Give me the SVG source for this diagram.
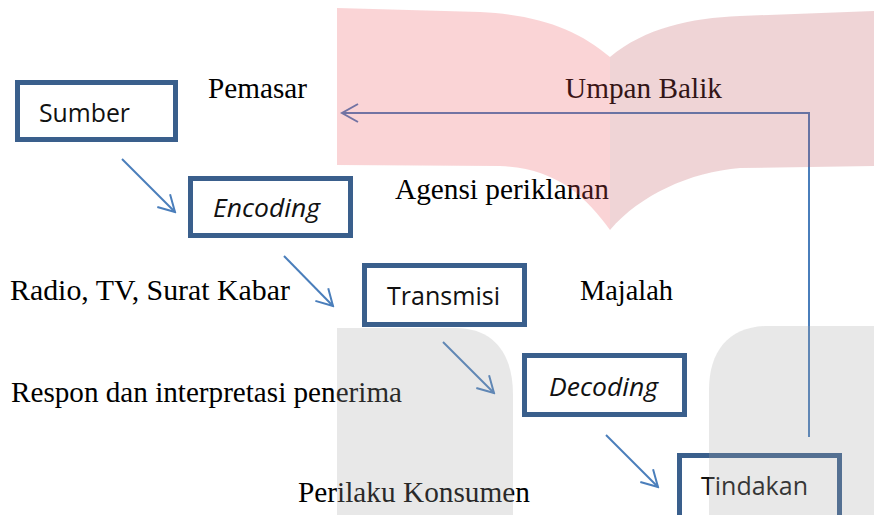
<svg xmlns="http://www.w3.org/2000/svg" width="874" height="515" viewBox="0 0 874 515">
  <style>
    .box { fill: #ffffff; stroke: #3a5f8c; stroke-width: 5; }
    .boxtext { font-family: "Open Sans", "Noto Sans", "Liberation Sans", sans-serif; font-size: 25px; fill: #111111; }
    .label { font-family: "Liberation Serif", "Times New Roman", serif; font-size: 29px; fill: #000000; }
    .conn { fill: none; stroke: #4a7ebb; stroke-width: 2; }
    .wm { fill-opacity: 0.25; }
  </style>
  <defs>
    <marker id="arrow" markerUnits="userSpaceOnUse" viewBox="0 0 20 20" refX="18" refY="10" markerWidth="20" markerHeight="20" orient="auto">
      <path d="M2,1 L18,10 L2,19" fill="none" stroke="#4a7ebb" stroke-width="2"/>
    </marker>
  </defs>

  <rect width="874" height="515" fill="#ffffff"/>

  <!-- connectors -->
  <g id="connectors">
    <line class="conn" x1="122" y1="159" x2="175" y2="212" marker-end="url(#arrow)"/>
    <line class="conn" x1="284" y1="256" x2="333" y2="306" marker-end="url(#arrow)"/>
    <line class="conn" x1="443" y1="342" x2="494" y2="393" marker-end="url(#arrow)"/>
    <line class="conn" x1="606" y1="435" x2="658" y2="487" marker-end="url(#arrow)"/>
    <polyline class="conn" stroke-width="2.5" points="809,437 809,113 342,113" marker-end="url(#arrow)"/>
  </g>

  <!-- nodes -->
  <g id="sumber">
    <rect class="box" x="17.5" y="82.5" width="158" height="57"/>
    <text class="boxtext" x="39" y="122" textLength="91" lengthAdjust="spacingAndGlyphs">Sumber</text>
  </g>
  <g id="encoding">
    <rect class="box" x="190.5" y="178.5" width="160" height="57"/>
    <text class="boxtext" x="213" y="217" font-style="italic" textLength="107" lengthAdjust="spacingAndGlyphs">Encoding</text>
  </g>
  <g id="transmisi">
    <rect class="box" x="364.5" y="265.5" width="160" height="59"/>
    <text class="boxtext" x="387" y="305" textLength="113" lengthAdjust="spacingAndGlyphs">Transmisi</text>
  </g>
  <g id="decoding">
    <rect class="box" x="524.5" y="355.5" width="160" height="59"/>
    <text class="boxtext" x="549" y="396" font-style="italic" textLength="109" lengthAdjust="spacingAndGlyphs">Decoding</text>
  </g>
  <g id="tindakan">
    <rect class="box" x="679.5" y="455.5" width="160" height="64"/>
    <text class="boxtext" x="701" y="495" textLength="107" lengthAdjust="spacingAndGlyphs">Tindakan</text>
  </g>

  <!-- labels -->
  <g id="labels">
    <text class="label" x="208" y="98" textLength="99" lengthAdjust="spacingAndGlyphs">Pemasar</text>
    <text class="label" x="565" y="98" textLength="157" lengthAdjust="spacingAndGlyphs">Umpan Balik</text>
    <text class="label" x="395" y="199" textLength="214" lengthAdjust="spacingAndGlyphs">Agensi periklanan</text>
    <text class="label" x="10" y="300" textLength="280" lengthAdjust="spacingAndGlyphs">Radio, TV, Surat Kabar</text>
    <text class="label" x="580" y="300" textLength="93" lengthAdjust="spacingAndGlyphs">Majalah</text>
    <text class="label" x="11" y="402" textLength="391" lengthAdjust="spacingAndGlyphs">Respon dan interpretasi penerima</text>
    <text class="label" x="298" y="502" textLength="232" lengthAdjust="spacingAndGlyphs">Perilaku Konsumen</text>
  </g>

  <!-- translucent watermark shapes laid over the page -->
  <g id="watermark" class="wm">
    <path fill="#eb535b" d="M337,8 L480,12 C540,15 578,30 610,57 L610,230 C585,195 555,168 500,166 L337,165 Z"/>
    <path fill="#bf535b" d="M610,57 C645,28 690,18 740,16 L874,11 L874,166 L740,168 C690,172 640,195 610,230 Z"/>
    <path fill="#a3a3a3" d="M337,328 L455,328 C495,328 513,355 513,395 L513,515 L337,515 Z"/>
    <path fill="#a3a3a3" d="M709,515 L709,390 C709,350 730,326 768,326 L874,326 L874,515 Z"/>
  </g>
</svg>
